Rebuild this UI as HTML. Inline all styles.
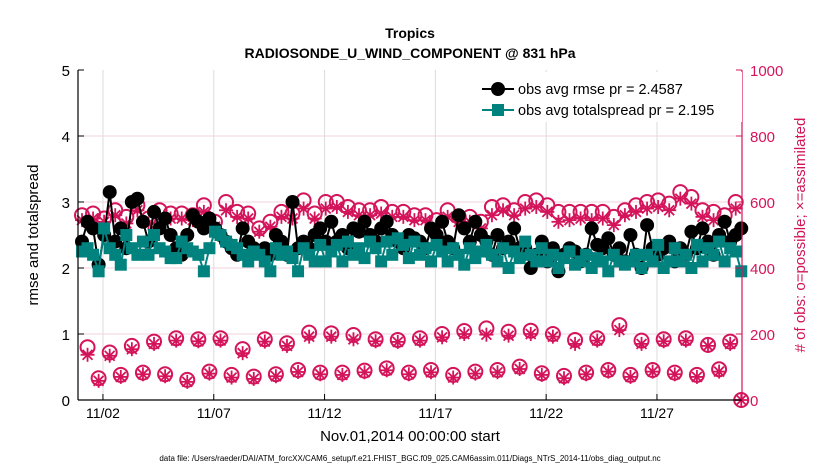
<!DOCTYPE html>
<html><head><meta charset="utf-8"><style>
body{margin:0;background:#fff;}
svg{display:block;font-family:"Liberation Sans",sans-serif;}
</style></head><body>
<svg id="chart" width="830" height="470" viewBox="0 0 830 470" xmlns="http://www.w3.org/2000/svg">
<g id="grid"></g>
<g id="marks"></g>
<g id="axes"></g>
<text x="410" y="38" text-anchor="middle" font-size="14" font-weight="bold">Tropics</text>
<text x="410" y="58" text-anchor="middle" font-size="14" font-weight="bold">RADIOSONDE_U_WIND_COMPONENT @ 831 hPa</text>
<text transform="translate(38,235) rotate(-90)" text-anchor="middle" font-size="15">rmse and totalspread</text>
<text transform="translate(805,235) rotate(-90)" text-anchor="middle" font-size="15" fill="#d4145a"># of obs: o=possible; ×=assimilated</text>
<text x="410" y="441" text-anchor="middle" font-size="15">Nov.01,2014 00:00:00 start</text>
<text x="410" y="461" text-anchor="middle" font-size="8">data file: /Users/raeder/DAI/ATM_forcXX/CAM6_setup/f.e21.FHIST_BGC.f09_025.CAM6assim.011/Diags_NTrS_2014-11/obs_diag_output.nc</text>
<g>
<rect x="470" y="72" width="272" height="50" fill="#fff" stroke="none"/>
<line x1="482" y1="89" x2="514" y2="89" stroke="#000" stroke-width="2"/>
<circle cx="498" cy="89" r="7" fill="#000"/>
<text x="518" y="94" font-size="14.5">obs avg rmse pr = 2.4587</text>
<line x1="482" y1="110" x2="514" y2="110" stroke="#00827f" stroke-width="2"/>
<rect x="492" y="104" width="12" height="12" fill="#00827f"/>
<text x="518" y="115" font-size="14.5">obs avg totalspread pr = 2.195</text>
</g>
</svg>
<script>
const rmse=[2.4,2.7,2.6,2.05,2.5,3.15,2.4,2.6,2.3,3.0,3.05,2.7,2.4,2.85,2.6,2.75,2.5,2.3,2.2,2.5,2.8,2.7,2.6,2.75,2.6,2.5,2.4,2.3,2.2,2.6,2.4,2.3,2.25,2.3,2.2,2.5,2.4,2.2,3.0,2.3,
2.4,2.3,2.5,2.6,2.4,2.7,2.4,2.5,2.3,2.6,2.55,2.7,2.5,2.4,2.6,2.7,2.5,2.4,2.3,2.5,2.45,2.4,2.3,2.6,2.5,2.7,2.4,2.3,2.8,2.6,2.4,2.7,2.5,2.4,2.2,2.5,2.3,2.4,2.6,2.3,
2.3,2.0,2.2,2.4,2.1,2.3,1.95,2.2,2.3,2.25,2.1,2.2,2.6,2.35,2.3,2.45,2.2,2.3,2.1,2.5,2.2,2.0,2.65,2.3,2.2,2.3,2.4,2.1,2.3,2.2,2.55,2.3,2.6,2.4,2.2,2.5,2.7,2.4,2.5,2.6];
const spread=[2.25,2.3,2.2,1.95,2.6,2.3,2.2,2.05,2.5,2.3,2.2,2.4,2.2,2.5,2.3,2.25,2.15,2.15,2.4,2.3,2.25,2.2,1.95,2.3,2.55,2.5,2.4,2.35,2.3,2.2,2.1,2.25,2.2,2.1,1.95,2.3,2.2,2.25,2.15,1.95,
2.3,2.2,2.1,2.35,2.1,2.25,2.35,2.1,2.4,2.2,2.3,2.15,2.4,2.3,2.1,2.4,2.2,2.45,2.35,2.15,2.4,2.2,2.3,2.1,2.35,2.25,2.1,2.3,2.2,2.05,2.3,2.15,2.25,2.35,2.2,2.1,2.3,2.0,2.25,2.15,
2.4,2.2,2.1,2.3,2.1,2.2,2.0,2.15,2.25,2.05,2.1,2.2,2.0,2.15,2.1,1.95,2.2,2.1,2.05,2.1,2.2,2.0,2.2,2.1,2.35,2.0,2.1,2.3,2.1,2.2,2.0,2.35,2.1,2.3,2.2,2.4,2.1,2.3,2.25,1.95];
const topPossible=[560,565,550,575,555,590,550,575,565,565,560,590,540,600,570,565,520,540,570,565,605,565,600,600,585,575,575,585,570,570,
560,560,545,575,555,555,540,585,590,575,600,605,590,570,570,570,570,570,555,575,590,600,605,595,630,615,575,570,560,600];
const topAssim=[545,550,540,560,535,575,535,555,550,550,545,570,525,575,555,550,510,525,555,550,580,550,580,585,570,560,560,565,555,555,
545,545,525,555,540,540,520,560,575,560,580,585,570,540,545,550,545,550,530,560,570,580,585,575,610,595,555,545,540,580];
const highPossible=[160,144,164,177,187,184,187,154,184,172,204,202,197,184,182,187,200,209,217,207,210,200,182,187,227,180,184,187,167,177];
const highAssim=[137,134,154,170,180,178,180,142,177,164,192,192,184,178,176,180,190,200,198,195,200,192,170,180,212,170,178,180,164,170];
const lowPossible=[66,76,83,78,61,86,76,71,78,91,83,83,89,96,83,91,76,86,91,101,81,73,83,91,76,91,83,76,93,0];
const lowAssim=[58,70,78,72,55,80,68,64,72,85,78,76,84,90,78,84,68,80,84,94,76,66,78,86,70,86,78,70,86,0];
const xTicks=["11/02","11/07","11/12","11/17","11/22","11/27"];
const xTickDays=[1,6,11,16,21,26];
const yTicks=[0,1,2,3,4,5];
const y2Ticks=[0,200,400,600,800,1000];

const L=78,R=742,T=70,B=400;
const xDay=d=>80.8+d*22.16;
const xIdx=i=>82+i*5.54;
const yL=v=>B-(v/5)*(B-T);
const yR=v=>B-(v/1000)*(B-T);
const NS="http://www.w3.org/2000/svg";
const CR="#d4145a",TE="#00827f";
function mk(tag,attrs,parent){const e=document.createElementNS(NS,tag);for(const k in attrs)e.setAttribute(k,attrs[k]);parent.appendChild(e);return e;}
const grid=document.getElementById('grid'),marks=document.getElementById('marks'),axes=document.getElementById('axes');

xTickDays.forEach((d,i)=>{
 const g=mk('line',{x1:xDay(d),x2:xDay(d),y1:T,y2:B,stroke:'#dcdcdc','stroke-width':1},grid);
 
 
 const t=mk('text',{x:xDay(d),y:B+18,'text-anchor':'middle','font-size':14},axes);
 t.textContent=xTicks[i];
 
 
 mk('line',{x1:xDay(d),x2:xDay(d),y1:B,y2:B-6,stroke:'#000'},axes);
});
y2Ticks.forEach(v=>{
 if(v>0&&v<1000){const g=mk('line',{x1:L,x2:R,y1:yR(v),y2:yR(v),stroke:'#f2d3de','stroke-width':1},grid);
 
 }
 const t=mk('text',{x:R+8,y:yR(v)+6,'font-size':15,fill:CR},axes);
 t.textContent=v;
 
 
 mk('line',{x1:R,x2:R-6,y1:yR(v),y2:yR(v),stroke:CR},axes);
});
yTicks.forEach(v=>{
 const t=mk('text',{x:L-8,y:yL(v)+6,'text-anchor':'end','font-size':15},axes);
 t.textContent=v;
 
 
 mk('line',{x1:L,x2:L+6,y1:yL(v),y2:yL(v),stroke:'#000'},axes);
});
mk('line',{x1:L,x2:L,y1:T,y2:B,stroke:'#000','stroke-width':1.2},axes);
mk('line',{x1:L,x2:R,y1:B,y2:B,stroke:'#000','stroke-width':1.2},axes);
mk('line',{x1:R,x2:R,y1:T,y2:B,stroke:CR,'stroke-width':1.2},axes);

function star(cx,cy,name){
 const g=mk('g',{stroke:CR,'stroke-width':1.8},marks);
 
 
 for(let k=0;k<4;k++){const a=k*Math.PI/4,r=7;mk('line',{x1:cx-r*Math.cos(a),y1:cy-r*Math.sin(a),x2:cx+r*Math.cos(a),y2:cy+r*Math.sin(a)},g);}
}
function ring(cx,cy,name){
 const c=mk('circle',{cx:cx,cy:cy,r:7,fill:'none',stroke:CR,'stroke-width':2},marks);
 
 
}
topPossible.forEach((v,k)=>{const i=k*2;ring(xIdx(i),yR(v),'possible-obs-point');star(xIdx(i),yR(topAssim[k]),'assimilated-obs-point');});
highPossible.forEach((v,k)=>{const i=k*4+1;ring(xIdx(i),yR(v),'possible-obs-point');star(xIdx(i),yR(highAssim[k]),'assimilated-obs-point');});
lowPossible.forEach((v,k)=>{const i=k*4+3;ring(xIdx(i),yR(v),'possible-obs-point');star(xIdx(i),yR(lowAssim[k]),'assimilated-obs-point');});

const rl=mk('polyline',{points:rmse.map((v,i)=>xIdx(i)+','+yL(v)).join(' '),fill:'none',stroke:'#000','stroke-width':2},marks);


rmse.forEach((v,i)=>{const c=mk('circle',{cx:xIdx(i),cy:yL(v),r:7,fill:'#000'},marks);
 
 });
const sl=mk('polyline',{points:spread.map((v,i)=>xIdx(i)+','+yL(v)).join(' '),fill:'none',stroke:TE,'stroke-width':2},marks);


spread.forEach((v,i)=>{const c=mk('rect',{x:xIdx(i)-6,y:yL(v)-6,width:12,height:12,fill:TE},marks);
 
 });
</script>
</body></html>
